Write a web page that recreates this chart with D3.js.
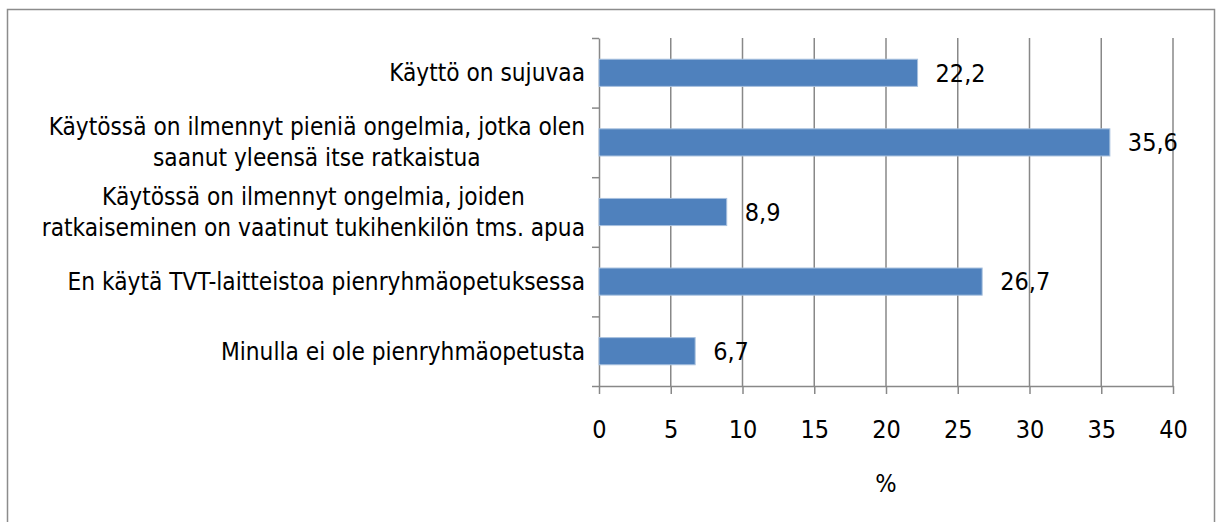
<!DOCTYPE html>
<html>
<head>
<meta charset="utf-8">
<script src="https://cdn.jsdelivr.net/npm/d3@7"></script>
<style>
  body { margin: 0; background: #fff; }
  svg text { font-family: "Liberation Sans Narrow", "DejaVu Sans Condensed", sans-serif; fill: #000; }
</style>
</head>
<body>
<div id="chartDiv"></div>
<script>
// data
var categories = [
  ['Käyttö on sujuvaa'],
  ['Käytössä on ilmennyt pieniä ongelmia, jotka olen', 'saanut yleensä itse ratkaistua'],
  ['Käytössä on ilmennyt ongelmia, joiden', 'ratkaiseminen on vaatinut tukihenkilön tms. apua'],
  ['En käytä TVT-laitteistoa pienryhmäopetuksessa'],
  ['Minulla ei ole pienryhmäopetusta']
];
var values = [22.2, 35.6, 8.9, 26.7, 6.7];
var xTicks = [0, 5, 10, 15, 20, 25, 30, 35, 40];
var xTitle = '%';

var w = 1219,
  h = 522,
  padL = 599, padR = 1173,
  padT = 38, padB = 386,
  fontSize = 25,
  labelSize = 24.2;

var svg = d3.select('#chartDiv')
  .append('svg')
    .attr('width', w)
    .attr('height', h);

// outer frame
svg.append('rect')
  .attr('x', 7.5).attr('y', 9.5)
  .attr('width', 1207).attr('height', 540)
  .attr('fill', 'none')
  .attr('stroke', '#8c8c8c')
  .attr('stroke-width', 1.5);

var xScale = d3.scaleLinear()
  .domain([0, 40])
  .range([padL, padR]);

var yScale = d3.scaleBand()
  .domain(d3.range(categories.length))
  .range([padT, padB])
  .paddingInner(0.61)
  .paddingOuter(0.305);

// vertical gridlines
svg.append('g')
  .selectAll('line')
  .data(xTicks.slice(1))
  .enter().append('line')
    .attr('x1', function(d) { return xScale(d); })
    .attr('x2', function(d) { return xScale(d); })
    .attr('y1', padT)
    .attr('y2', padB)
    .attr('stroke', '#888')
    .attr('stroke-width', 1.5);

// x axis
var xAxis = d3.axisBottom(xScale)
  .tickValues(xTicks)
  .tickSize(8)
  .tickSizeOuter(0)
  .tickPadding(26)
  .tickFormat(d3.format('d'));

var gx = svg.append('g')
  .attr('transform', 'translate(0,' + padB + ')')
  .call(xAxis);
gx.select('.domain').attr('stroke', '#888').attr('stroke-width', 1.5);
gx.selectAll('.tick line').attr('stroke', '#888').attr('stroke-width', 1.5);
gx.selectAll('.tick text')
  .style('font-size', fontSize + 'px')
  .style('font-family', '"Liberation Sans Narrow", "DejaVu Sans Condensed", sans-serif')
  .attr('fill', '#000');

// y axis: ticks sit at category boundaries
var yEdge = d3.scaleLinear().domain([0, categories.length]).range([padT, padB]);
var yAxis = d3.axisLeft(yEdge)
  .tickValues(d3.range(categories.length + 1))
  .tickSize(7)
  .tickSizeOuter(0)
  .tickFormat('');

var gy = svg.append('g')
  .attr('transform', 'translate(' + padL + ',0)')
  .call(yAxis);
gy.select('.domain').attr('stroke', '#888').attr('stroke-width', 1.5);
gy.selectAll('.tick line').attr('stroke', '#888').attr('stroke-width', 1.5);

// category labels, lines centred, block right-aligned near the axis
var lineH = 31;
var labels = svg.append('g')
  .selectAll('text')
  .data(categories)
  .enter().append('text')
    .attr('text-anchor', 'middle')
    .style('font-size', labelSize + 'px')
    .each(function(d, i) {
      var t = d3.select(this);
      var cy = yScale(i) + yScale.bandwidth() / 2;
      var y0 = cy - (d.length - 1) * lineH / 2;
      d.forEach(function(s, j) {
        t.append('tspan')
          .attr('y', y0 + j * lineH)
          .attr('dy', '0.35em')
          .text(s);
      });
    });

labels.each(function() {
  var t = d3.select(this);
  var maxW = 0;
  t.selectAll('tspan').each(function() {
    maxW = Math.max(maxW, this.getComputedTextLength());
  });
  t.selectAll('tspan').attr('x', 585 - maxW / 2);
});

// bars
svg.append('g')
  .selectAll('rect')
  .data(values)
  .enter().append('rect')
    .attr('x', xScale(0))
    .attr('y', function(d, i) { return yScale(i); })
    .attr('width', function(d) { return xScale(d) - xScale(0); })
    .attr('height', yScale.bandwidth())
    .attr('fill', '#4f81bd')
    .attr('stroke', '#a7c0de')
    .attr('stroke-width', 1);

// value labels
svg.append('g')
  .selectAll('text')
  .data(values)
  .enter().append('text')
    .attr('x', function(d) { return xScale(d) + 18; })
    .attr('y', function(d, i) { return yScale(i) + yScale.bandwidth() / 2; })
    .attr('dy', '0.35em')
    .style('font-size', fontSize + 'px')
    .text(function(d) { return String(d).replace('.', ','); });

// axis title
svg.append('text')
  .attr('x', (padL + padR) / 2)
  .attr('y', 483)
  .attr('dy', '0.35em')
  .attr('text-anchor', 'middle')
  .style('font-size', fontSize + 'px')
  .text(xTitle);
</script>
</body>
</html>
